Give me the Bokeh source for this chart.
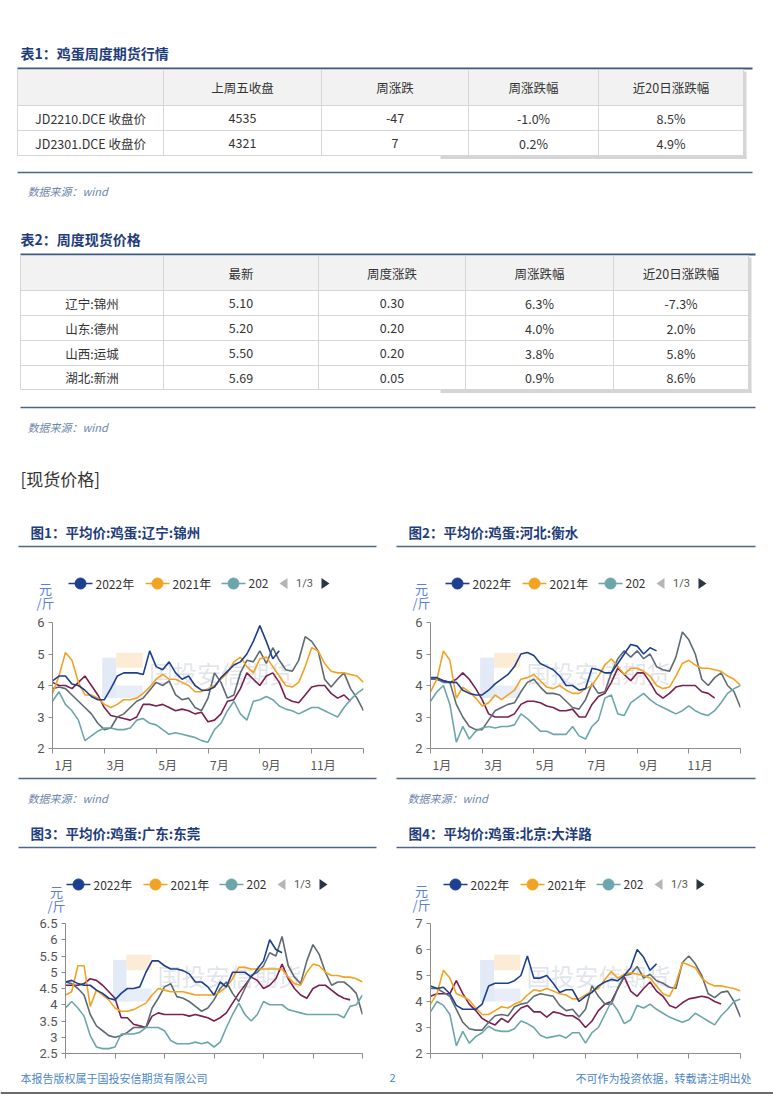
from bokeh.plotting import figure
from bokeh.layouts import column, row
from bokeh.models import Range1d, FixedTicker, CustomJSTickFormatter
from bokeh.embed import file_html
from bokeh.resources import INLINE
from bokeh.core.properties import value

FONT = "Noto Sans CJK SC"
NUM_FONT = "Roboto"

# ---------------- table data ----------------
T1_TITLE = "表1：鸡蛋周度期货行情"
T1_COLUMNS = ["上周五收盘", "周涨跌", "周涨跌幅", "近20日涨跌幅"]
T1_NAMES = ["JD2210.DCE 收盘价", "JD2301.DCE 收盘价"]
T1_CLOSE = [4535, 4321]
T1_WEEK_CHG = [-47, 7]
T1_WEEK_PCT = [-1.0, 0.2]
T1_PCT20 = [8.5, 4.9]

T2_TITLE = "表2：周度现货价格"
T2_COLUMNS = ["最新", "周度涨跌", "周涨跌幅", "近20日涨跌幅"]
T2_NAMES = ["辽宁:锦州", "山东:德州", "山西:运城", "湖北:新洲"]
T2_LATEST = [5.10, 5.20, 5.50, 5.69]
T2_WEEK_CHG = [0.30, 0.20, 0.20, 0.05]
T2_WEEK_PCT = [6.3, 4.0, 3.8, 0.9]
T2_PCT20 = [-7.3, 2.0, 5.8, 8.6]

SOURCE = "数据来源：wind"
SECTION = "[现货价格]"
CHART_TITLES = ["图1：平均价:鸡蛋:辽宁:锦州", "图2：平均价:鸡蛋:河北:衡水",
                "图3：平均价:鸡蛋:广东:东莞", "图4：平均价:鸡蛋:北京:大洋路"]
LEGEND_LABELS = ["2022年", "2021年", "202"]
PAGER = "1/3"
UNIT_TOP = "元"
UNIT_BOTTOM = "/斤"
MONTH_LABELS = ["1月", "3月", "5月", "7月", "9月", "11月"]
WATERMARK = "国投安信期货"
FOOTER_LEFT = "本报告版权属于国投安信期货有限公司"
FOOTER_MID = "2"
FOOTER_RIGHT = "不可作为投资依据，转载请注明出处"

# weekly observation positions, in months from 1 Jan
WEEKS = [0.0, 0.25, 0.5, 0.75, 1.0, 1.25, 1.5, 1.75, 2.0, 2.25, 2.5, 2.75,
         3.0, 3.25, 3.5, 3.75, 4.0, 4.25, 4.5, 4.75, 5.0, 5.25, 5.5, 5.75,
         6.0, 6.25, 6.5, 6.75, 7.0, 7.25, 7.5, 7.75, 8.0, 8.25, 8.5, 8.75,
         9.0, 9.25, 9.5, 9.75, 10.0, 10.25, 10.5, 10.75, 11.0, 11.25, 11.5, 11.75, 12.0]

# ---------------- chart 1: 辽宁:锦州 ----------------
c1_2022 = [4.15, 4.3, 4.3, 4.05, 4.0, 3.85, 3.65, 3.55, 3.55, 3.9, 4.3, 4.4, 4.4, 4.4, 4.35, 5.1, 4.6, 4.5,
           4.75, 4.4, 4.2, 4.3, 4.0, 3.85, 3.85, 3.95, 4.25, 4.45, 4.65, 4.75, 5.0, 5.4, 5.9, 5.4, 4.85, 5.1]
c1_2021 = [3.75, 4.3, 5.05, 4.8, 4.1, 3.7, 3.7, 3.6, 3.4, 3.3, 3.4, 3.55, 3.55, 3.6, 3.75, 3.95, 4.2, 4.35,
           4.2, 4.2, 4.1, 4.0, 3.8, 3.8, 3.9, 4.0, 4.2, 4.4, 4.75, 4.9, 4.6, 4.4, 4.85, 4.9, 4.6, 4.3,
           4.0, 3.95, 4.1, 4.6, 5.2, 5.1, 4.7, 4.45, 4.4, 4.4, 4.35, 4.3, 4.1]
c1_2020 = [3.5, 3.8, 3.4, 3.2, 2.9, 2.25, 2.4, 2.55, 2.65, 2.65, 2.6, 2.6, 2.65, 2.9, 2.95, 2.8, 2.75, 2.6,
           2.45, 2.5, 2.45, 2.4, 2.35, 2.25, 2.2, 2.6, 2.8, 3.2, 3.5, 3.1, 2.9, 3.5, 3.55, 3.65, 3.55, 3.35,
           3.25, 3.2, 3.1, 3.2, 3.3, 3.3, 3.2, 3.1, 3.0, 3.3, 3.55, 3.75, 3.9]
c1_2019 = [3.9, 3.95, 3.9, 3.7, 3.5, 3.3, 3.1, 2.8, 2.6, 2.65, 3.0, 3.1, 3.3, 3.5, 3.6, 3.85, 4.1, 4.0,
           4.15, 3.7, 3.55, 3.6, 3.3, 3.2, 3.6, 4.4, 4.1, 3.6, 3.7, 4.4, 4.8, 4.75, 5.1, 4.7, 5.2, 4.8,
           4.5, 4.45, 4.8, 5.55, 5.4, 5.1, 4.2, 3.95, 4.2, 4.4, 3.9, 3.6, 3.2]
c1_2018 = [4.1, 4.0, 4.0, 3.9, 4.1, 4.3, 4.0, 3.7, 3.3, 3.05, 3.0, 2.95, 2.9, 3.0, 3.4, 3.4, 3.35, 3.4,
           3.3, 3.2, 3.25, 3.2, 3.1, 3.15, 2.85, 2.9, 3.1, 3.5, 3.55, 3.9, 4.4, 4.2, 4.0, 4.3, 4.4, 4.1,
           3.6, 3.5, 3.45, 3.7, 3.95, 4.0, 4.0, 3.75, 3.6, 3.7, 3.5]

# ---------------- chart 2: 河北:衡水 ----------------
c2_2022 = [4.25, 4.25, 4.15, 4.1, 4.1, 3.85, 3.75, 3.7, 3.7, 3.85, 4.05, 4.2, 4.35, 4.6, 5.0, 5.05, 4.95, 4.7,
           4.6, 4.5, 4.3, 4.0, 4.0, 3.85, 3.9, 4.55, 4.5, 4.4, 4.4, 4.7, 5.0, 5.3, 5.25, 5.0, 5.2, 5.1]
c2_2021 = [3.8, 4.2, 5.1, 4.8, 3.6, 3.95, 3.8, 3.6, 3.35, 3.45, 3.7, 3.55, 3.7, 3.85, 4.2, 4.25, 4.35, 4.15,
           3.95, 3.9, 4.0, 3.85, 3.75, 3.75, 3.9, 4.0, 4.3, 4.65, 4.85, 4.6, 4.35, 4.55, 4.55, 4.45, 4.3, 4.0,
           3.9, 3.95, 4.3, 4.7, 4.8, 4.65, 4.55, 4.55, 4.5, 4.45, 4.3, 4.2, 4.0]
c2_2020 = [3.5, 3.8, 4.0, 3.4, 2.2, 2.7, 2.3, 2.55, 2.65, 2.7, 2.65, 2.7, 2.7, 2.75, 3.1, 2.95, 2.75, 2.55,
           2.55, 2.45, 2.45, 2.45, 2.7, 2.4, 2.3, 2.7, 2.9, 3.6, 3.7, 3.1, 3.05, 3.45, 3.6, 3.75, 3.55, 3.4,
           3.3, 3.2, 3.1, 3.2, 3.35, 3.2, 3.1, 3.05, 3.2, 3.45, 3.75, 3.9, 4.0]
c2_2019 = [4.2, 4.2, 4.1, 4.1, 3.4, 3.0, 2.7, 2.6, 2.6, 2.9, 3.2, 3.3, 3.4, 3.45, 3.8, 4.1, 4.2, 3.95,
           3.75, 3.75, 3.7, 3.5, 3.3, 3.25, 3.55, 4.05, 3.75, 3.8, 4.4, 4.85, 5.1, 4.9, 5.1, 4.85, 5.0, 4.6,
           4.5, 4.45, 4.9, 5.7, 5.45, 5.0, 4.2, 4.0, 4.25, 4.4, 4.0, 3.8, 3.3]
c2_2018 = [4.2, 4.2, 4.15, 4.1, 4.2, 4.4, 4.2, 3.9, 3.55, 3.1, 3.0, 3.0, 3.0, 3.1, 3.4, 3.5, 3.5, 3.45,
           3.35, 3.3, 3.2, 3.2, 3.25, 3.0, 3.0, 3.4, 3.65, 3.75, 4.1, 4.55, 4.35, 4.15, 4.4, 4.4, 4.1, 3.75,
           3.6, 3.75, 3.95, 4.0, 4.0, 4.0, 3.8, 3.75, 3.6]

# ---------------- chart 3: 广东:东莞 ----------------
c3_2022 = [4.7, 4.75, 4.65, 4.6, 4.6, 4.45, 4.35, 4.2, 4.15, 4.35, 4.5, 4.5, 4.55, 5.0, 5.35, 5.35, 5.2, 5.1,
           5.1, 5.05, 4.95, 4.7, 4.7, 4.55, 4.3, 4.7, 4.55, 5.0, 5.0, 5.0, 4.85, 5.1, 5.35, 6.0, 5.7, 5.6]
c3_2021 = [4.3, 4.4, 5.2, 5.2, 3.95, 4.45, 4.3, 4.15, 3.9, 3.8, 3.8, 3.85, 3.95, 4.05, 4.3, 4.5, 4.45, 4.4,
           4.4, 4.4, 4.35, 4.3, 4.3, 4.3, 4.3, 4.4, 4.55, 4.8, 5.15, 5.15, 5.1, 5.1, 5.1, 5.1, 5.1, 5.1,
           4.85, 4.65, 4.6, 5.0, 5.25, 5.2, 5.0, 4.9, 4.9, 4.85, 4.85, 4.8, 4.7]
c3_2020 = [3.9, 4.1, 3.9, 3.65, 3.05, 2.7, 2.65, 2.65, 2.7, 3.1, 3.1, 3.1, 3.15, 3.3, 3.3, 3.3, 3.2, 2.9,
           2.8, 2.8, 2.8, 2.85, 2.8, 2.85, 2.7, 2.85, 3.3, 3.7, 4.05, 3.7, 3.5, 3.7, 4.1, 4.0, 4.0, 4.0,
           3.85, 3.8, 3.75, 3.7, 3.7, 3.7, 3.7, 3.7, 3.7, 3.6, 3.95, 4.0, 4.3]
c3_2019 = [4.7, 4.65, 4.5, 4.3, 3.7, 3.35, 3.2, 3.05, 3.0, 3.05, 3.15, 3.3, 3.3, 3.3, 3.9, 4.2, 4.55, 4.65,
           4.25, 4.2, 4.1, 3.95, 3.8, 3.9, 4.15, 4.5, 4.7, 4.35, 4.1, 4.5, 4.9, 5.0, 5.2, 5.6, 5.5, 6.1,
           5.2, 4.85, 4.65, 5.35, 5.85, 5.55, 5.0, 4.6, 4.7, 4.7, 4.55, 4.35, 3.7]
c3_2018 = [4.6, 4.6, 4.6, 4.65, 4.8, 4.75, 4.6, 4.4, 4.2, 3.6, 3.6, 3.4, 3.35, 3.3, 3.65, 3.75, 3.7, 3.7,
           3.7, 3.7, 3.65, 3.7, 3.65, 3.6, 3.5, 3.6, 3.75, 4.05, 4.35, 4.6, 4.85, 4.75, 4.5, 4.6, 4.8, 5.25,
           4.8, 4.5, 4.3, 4.2, 4.5, 4.6, 4.6, 4.45, 4.3, 4.2, 4.15]

# ---------------- chart 4: 北京:大洋路 ----------------
c4_2022 = [4.6, 4.5, 4.55, 4.3, 3.85, 3.7, 3.7, 3.7, 3.9, 4.6, 4.7, 4.7, 4.7, 4.8, 5.0, 5.75, 4.9, 4.9,
           5.0, 4.7, 4.35, 4.45, 4.45, 4.0, 4.2, 4.35, 4.6, 4.75, 4.85, 4.8, 5.0, 5.3, 6.0, 5.7, 5.2, 5.45]
c4_2021 = [3.9, 4.3, 5.2, 4.9, 4.3, 4.2, 4.05, 3.75, 3.5, 3.5, 3.65, 3.8, 3.75, 3.9, 4.0, 4.25, 4.45, 4.4,
           4.5, 4.4, 4.3, 4.25, 4.1, 4.1, 4.25, 4.4, 4.5, 4.85, 5.15, 4.9, 5.05, 5.1, 5.05, 5.0, 4.9, 4.6,
           4.3, 4.2, 4.7, 5.5, 5.4, 5.3, 4.9, 4.7, 4.6, 4.6, 4.55, 4.5, 4.4]
c4_2020 = [3.6, 4.0, 3.85, 3.5, 2.3, 2.85, 2.4, 2.65, 2.8, 3.05, 2.9, 2.85, 2.85, 2.95, 3.25, 3.15, 3.0, 2.7,
           2.6, 2.65, 2.7, 2.6, 2.8, 2.8, 2.4, 2.8, 3.0, 3.5, 4.0, 3.65, 3.15, 3.3, 3.85, 3.75, 3.9, 3.7,
           3.55, 3.4, 3.3, 3.2, 3.3, 3.55, 3.4, 3.25, 3.1, 3.45, 3.7, 4.0, 4.1]
c4_2019 = [4.5, 4.5, 4.35, 4.2, 3.7, 3.2, 2.95, 2.9, 2.9, 3.2, 3.45, 3.5, 3.45, 3.8, 3.9, 3.95, 4.2, 4.3,
           4.25, 4.2, 3.85, 3.65, 3.7, 3.4, 3.7, 4.6, 4.2, 3.9, 3.9, 4.5, 5.0, 5.05, 5.35, 4.9, 5.05, 4.8,
           4.7, 4.55, 4.5, 5.5, 5.75, 5.45, 5.0, 4.3, 4.15, 4.35, 4.4, 4.0, 3.4]
c4_2018 = [4.2, 4.3, 4.3, 4.3, 4.8, 4.3, 3.9, 3.65, 3.35, 3.2, 3.1, 3.35, 3.2, 3.5, 3.75, 3.85, 3.6, 3.6,
           3.4, 3.6, 3.55, 3.45, 3.45, 3.3, 3.0, 3.25, 3.65, 3.9, 4.0, 4.5, 4.95, 4.4, 4.2, 4.5, 4.75, 4.4,
           4.2, 3.85, 3.75, 3.95, 4.1, 4.15, 4.2, 4.15, 4.0, 3.9]

# ---------------- styles ----------------
COLORS = {"2022": "#1d3f8f", "2021": "#f2a322", "2020": "#6aa6ab", "2019": "#5e6b73", "2018": "#7a2050"}
DRAW_ORDER = ["2018", "2019", "2020", "2021", "2022"]
NAVY = "#1f3d7a"
RULE = "#4a6688"
GRID = "#d6d6d6"
AXIS = "#8c8c8c"
SRC_COLOR = "#6c86ab"
FOOT_COLOR = "#4a86c8"
UNIT_COLOR = "#5b7fd1"
PAGE_W = 773


def make_canvas(top, bottom):
    p = figure(width=PAGE_W, height=bottom - top, x_range=Range1d(0, PAGE_W), y_range=Range1d(bottom, top),
               x_axis_location=None, y_axis_location=None, output_backend="svg",
               toolbar_location=None, min_border=0)
    p.outline_line_color = None
    p.xgrid.visible = False
    p.ygrid.visible = False
    return p


def txt(p, xs, ys, texts, size, color="#333333", align="center", style="normal", font=FONT):
    p.text(x=xs, y=ys, text=texts, text_font=value(font), text_font_size=size,
           text_color=color, text_align=align, text_baseline="middle", text_font_style=style)


def hline(p, x0, x1, y, color, width):
    p.segment(x0=[x0], y0=[y], x1=[x1], y1=[y], line_color=color, line_width=width)


def draw_table(p, col_x, row_y, header, names, rows):
    left, right = col_x[0], col_x[-1]
    p.quad(left=[440], right=[right + 3], top=[row_y[-1]], bottom=[row_y[-1] + 3.5],
           fill_color="#d5d5d5", line_color=None)
    p.quad(left=[right], right=[right + 3], top=[row_y[0] + 2], bottom=[row_y[-1] + 3.5],
           fill_color="#d5d5d5", line_color=None)
    p.quad(left=[left], right=[right], top=[row_y[0]], bottom=[row_y[1]],
           fill_color="#f2f2f2", line_color=None)
    for y in row_y[1:]:
        hline(p, left, right, y, GRID, 1)
    p.segment(x0=col_x, y0=[row_y[0]] * len(col_x), x1=col_x, y1=[row_y[-1]] * len(col_x),
              line_color=GRID, line_width=1)
    centers = [(col_x[i] + col_x[i + 1]) / 2 for i in range(len(col_x) - 1)]
    hy = (row_y[0] + row_y[1]) / 2
    txt(p, centers[1:], [hy] * len(header), header, "12.5px", "#333333")
    for r, name in enumerate(names):
        cy = (row_y[r + 1] + row_y[r + 2]) / 2
        cells = [name] + [col[r] for col in rows]
        txt(p, centers, [cy] * len(cells), cells, "12.5px", "#333333")


def legend(p, base_x, y):
    offs = [0, 77, 153]
    keys = ["2022", "2021", "2020"]
    for o, k, lab in zip(offs, keys, LEGEND_LABELS):
        cx = base_x + o
        hline(p, cx - 12, cx + 12, y, COLORS[k], 1.6)
        p.scatter([cx], [y], size=11, fill_color=COLORS[k], line_color=COLORS[k])
        txt(p, [cx + 15], [y], [lab], "12px", "#333333", align="left")
    lx = base_x + 203
    p.patch([lx - 4, lx + 4, lx + 4], [y, y - 5.5, y + 5.5], fill_color="#b5b5b5", line_color=None)
    txt(p, [base_x + 224], [y], [PAGER], "11px", "#555555", font=NUM_FONT)
    rx = base_x + 245
    p.patch([rx + 4, rx - 4, rx - 4], [y, y - 5.5, y + 5.5], fill_color="#2b3645", line_color=None)


def unit(p, x, y):
    txt(p, [x], [y - 7], [UNIT_TOP], "13px", UNIT_COLOR)
    txt(p, [x], [y + 7], [UNIT_BOTTOM], "13px", UNIT_COLOR)


def make_chart(width, height, border, yr, yticks, series, show_x=True):
    left, right, top, bottom = border
    p = figure(width=width, height=height, x_range=Range1d(0, 12), y_range=Range1d(*yr),
               output_backend="svg", toolbar_location=None,
               min_border_left=left, min_border_right=right,
               min_border_top=top, min_border_bottom=bottom)
    p.outline_line_color = None
    p.xgrid.visible = False
    p.ygrid.visible = False
    y0, y1 = yr
    fy = lambda f: y0 + (y1 - y0) * f
    # faint logo watermark
    p.quad(left=[12 * 0.16], right=[12 * 0.205], top=[fy(0.72)], bottom=[fy(0.40)],
           fill_color="#9fb6e6", fill_alpha=0.3, line_color=None)
    p.quad(left=[12 * 0.205], right=[12 * 0.29], top=[fy(0.76)], bottom=[fy(0.64)],
           fill_color="#f6c98a", fill_alpha=0.35, line_color=None)
    p.quad(left=[12 * 0.205], right=[12 * 0.29], top=[fy(0.5)], bottom=[fy(0.40)],
           fill_color="#9fb6e6", fill_alpha=0.25, line_color=None)
    p.text(x=[12 * 0.31], y=[fy(0.6)], text=[WATERMARK], text_font=value(FONT),
           text_font_size="24px", text_color="#8796b0", text_alpha=0.25,
           text_baseline="middle", text_align="left")
    for k in DRAW_ORDER:
        ys = series[k]
        p.line(WEEKS[:len(ys)], ys, line_color=COLORS[k], line_width=1.6)

    yax = p.yaxis[0]
    yax.ticker = FixedTicker(ticks=yticks)
    yax.formatter = CustomJSTickFormatter(
        code="return Number.isInteger(tick) ? tick.toFixed(0) : tick.toFixed(1);")
    yax.axis_line_color = AXIS
    yax.major_tick_line_color = AXIS
    yax.major_tick_out = 4
    yax.major_tick_in = 0
    yax.minor_tick_line_color = None
    yax.major_label_text_font = NUM_FONT
    yax.major_label_text_font_size = "13px"
    yax.major_label_text_color = "#555555"
    yax.major_label_standoff = 4

    xax = p.xaxis[0]
    shift = 0.44
    label_ticks = [m + shift for m in range(0, 12, 2)] if show_x else []
    xax.ticker = FixedTicker(ticks=label_ticks, minor_ticks=list(range(0, 13, 2)))
    xax.formatter = CustomJSTickFormatter(args=dict(labels=MONTH_LABELS),
                                          code="return labels[Math.round((tick - 0.44) / 2)];")
    xax.axis_line_color = AXIS
    xax.major_tick_line_color = None
    xax.major_tick_out = 5
    xax.minor_tick_line_color = AXIS
    xax.minor_tick_out = 5
    xax.minor_tick_in = 0
    xax.major_label_text_font = FONT
    xax.major_label_text_color = "#555555"
    xax.major_label_text_font_size = "12px"
    xax.major_label_standoff = 2
    return p


# ---------------- canvas A: tables, headings ----------------
A = make_canvas(0, 615)
txt(A, [20], [52], [T1_TITLE], "14px", NAVY, align="left", style="bold")
hline(A, 17, 752, 68, "#3e5a83", 2)
draw_table(A, [17, 163, 321, 468, 598, 743], [69, 105, 130, 155], T1_COLUMNS, T1_NAMES,
           [[str(v) for v in T1_CLOSE], [str(v) for v in T1_WEEK_CHG],
            [f"{v:.1f}%" for v in T1_WEEK_PCT], [f"{v:.1f}%" for v in T1_PCT20]])
hline(A, 17, 752, 172, RULE, 1.5)
txt(A, [27], [190], [SOURCE], "11px", SRC_COLOR, align="left", style="italic")

txt(A, [20], [238], [T2_TITLE], "14px", NAVY, align="left", style="bold")
hline(A, 20, 755, 254, "#3e5a83", 2)
draw_table(A, [20, 163, 318, 465, 613, 748], [255, 290, 315, 340, 365, 389], T2_COLUMNS, T2_NAMES,
           [[f"{v:.2f}" for v in T2_LATEST], [f"{v:.2f}" for v in T2_WEEK_CHG],
            [f"{v:.1f}%" for v in T2_WEEK_PCT], [f"{v:.1f}%" for v in T2_PCT20]])
hline(A, 20, 755, 407, RULE, 1.5)
txt(A, [27], [426], [SOURCE], "11px", SRC_COLOR, align="left", style="italic")

txt(A, [20], [478], [SECTION], "17px", "#333333", align="left")

txt(A, [30, 408], [531, 531], CHART_TITLES[:2], "13.5px", NAVY, align="left", style="bold")
hline(A, 18, 376, 546, RULE, 1.5)
hline(A, 396, 755, 546, RULE, 1.5)
legend(A, 80, 583)
legend(A, 457, 583)
unit(A, 45, 595)
unit(A, 421, 595)

# ---------------- charts 1 & 2 ----------------
ch1 = make_chart(388, 160, (52, 25, 7, 23), (2, 6), [2, 3, 4, 5, 6],
                 {"2022": c1_2022, "2021": c1_2021, "2020": c1_2020, "2019": c1_2019, "2018": c1_2018})
ch2 = make_chart(385, 160, (42, 33, 7, 23), (2, 6), [2, 3, 4, 5, 6],
                 {"2022": c2_2022, "2021": c2_2021, "2020": c2_2020, "2019": c2_2019, "2018": c2_2018})

# ---------------- canvas B ----------------
B = make_canvas(775, 916)
hline(B, 18, 376, 778, RULE, 1.5)
hline(B, 396, 755, 778, RULE, 1.5)
txt(B, [27, 407], [797, 797], [SOURCE, SOURCE], "11px", SRC_COLOR, align="left", style="italic")
txt(B, [30, 408], [832, 832], CHART_TITLES[2:], "13.5px", NAVY, align="left", style="bold")
hline(B, 18, 376, 847, RULE, 1.5)
hline(B, 396, 755, 847, RULE, 1.5)
legend(B, 78, 884)
legend(B, 455, 884)
unit(B, 56, 898)
unit(B, 421, 897)

# ---------------- charts 3 & 4 ----------------
ch3 = make_chart(388, 147, (65, 26, 7, 10), (2.5, 6.5), [2.5, 3, 3.5, 4, 4.5, 5, 5.5, 6, 6.5],
                 {"2022": c3_2022, "2021": c3_2021, "2020": c3_2020, "2019": c3_2019, "2018": c3_2018},
                 show_x=False)
ch4 = make_chart(385, 147, (42, 33, 7, 10), (2, 7), [2, 3, 4, 5, 6, 7],
                 {"2022": c4_2022, "2021": c4_2021, "2020": c4_2020, "2019": c4_2019, "2018": c4_2018},
                 show_x=False)

# ---------------- footer ----------------
C = make_canvas(1063, 1094)
txt(C, [20], [1077], [FOOTER_LEFT], "11px", FOOT_COLOR, align="left")
txt(C, [392], [1077], [FOOTER_MID], "11px", FOOT_COLOR)
txt(C, [751], [1077], [FOOTER_RIGHT], "11px", FOOT_COLOR, align="right")
C.quad(left=[0], right=[PAGE_W], top=[1091.5], bottom=[1094], fill_color="#6b6b6b", line_color=None)

page = column(A, row(ch1, ch2, spacing=0), B, row(ch3, ch4, spacing=0), C, spacing=0)
open("out.html", "w").write(file_html(page, INLINE))
